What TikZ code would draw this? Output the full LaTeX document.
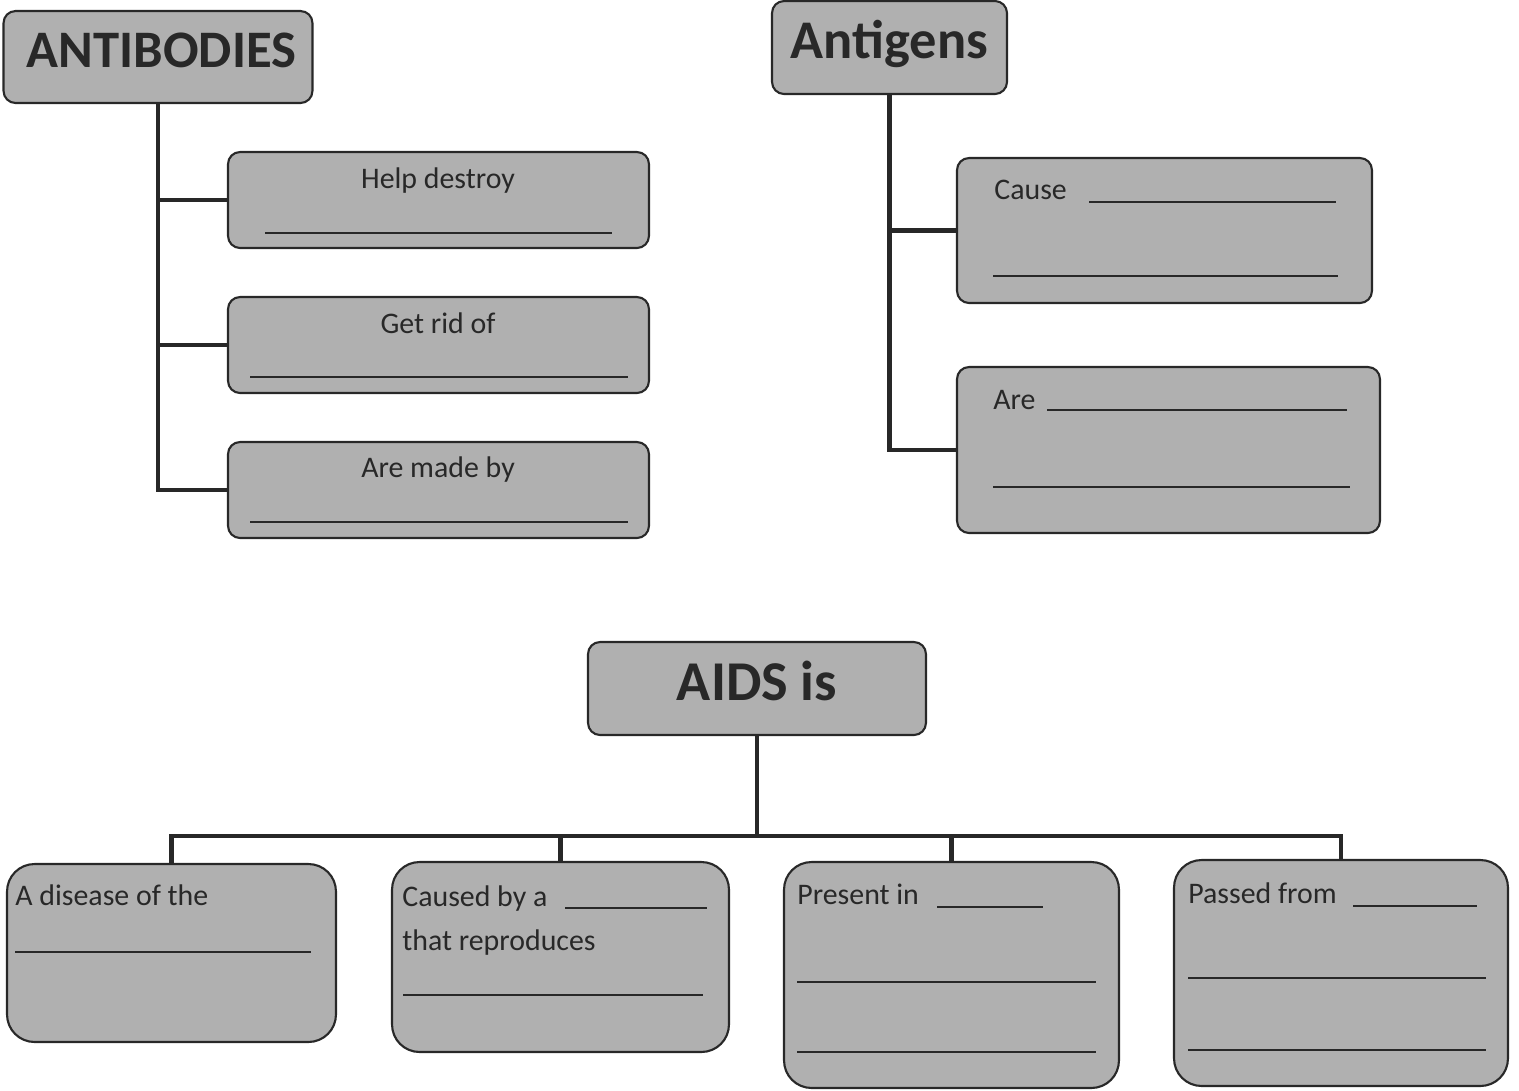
\documentclass[tikz,border=0pt]{standalone}
\usepackage{fontspec}
\setmainfont{Carlito}
\definecolor{boxfill}{RGB}{176,176,176}
\definecolor{ink}{RGB}{40,40,40}
\begin{document}
\begin{tikzpicture}[x=0.02cm,y=-0.02cm,
  box/.style={draw=ink, line width=1.2pt, fill=boxfill, rounded corners=0.24cm, inner sep=0pt, outer sep=0pt},
  bigbox/.style={box, rounded corners=0.55cm},
  conn/.style={draw=ink, line width=2.8pt},
  blank/.style={draw=ink, line width=1.1pt},
  title/.style={font=\fontsize{30}{35}\selectfont\bfseries, text=ink, inner sep=0pt},
  lbl/.style={font=\fontsize{17}{20}\selectfont, text=ink, inner sep=0pt}]
\useasboundingbox[fill=white] (0,0) rectangle (1519,1090);

% ---- boxes ----
\node[box, minimum width=6.18cm, minimum height=1.84cm] (ab) at (158,57) {};
\node[box, minimum width=4.7cm, minimum height=1.86cm] (ag) at (889.5,47.5) {};
\node[box, minimum width=8.42cm, minimum height=1.92cm] (hd) at (438.5,200) {};
\node[box, minimum width=8.42cm, minimum height=1.92cm] (gr) at (438.5,345) {};
\node[box, minimum width=8.42cm, minimum height=1.92cm] (md) at (438.5,490) {};
\node[box, minimum width=8.3cm, minimum height=2.9cm] (ca) at (1164.5,230.5) {};
\node[box, minimum width=8.46cm, minimum height=3.32cm] (ar) at (1168.5,450) {};
\node[box, minimum width=6.76cm, minimum height=1.86cm] (aids) at (757,688.5) {};
\node[bigbox, minimum width=6.58cm, minimum height=3.56cm] (b1) at (171.5,953) {};
\node[bigbox, minimum width=6.74cm, minimum height=3.8cm] (b2) at (560.5,957) {};
\node[bigbox, minimum width=6.7cm, minimum height=4.52cm] (b3) at (951.5,975) {};
\node[bigbox, minimum width=6.68cm, minimum height=4.52cm] (b4) at (1341,973) {};

% ---- connectors ----
\draw[conn] (ab.south) |- (md.west);
\draw[conn] (ab.south |- hd.west) -- (hd.west);
\draw[conn] (ab.south |- gr.west) -- (gr.west);
\draw[conn] (ag.south) |- (ar.west);
\draw[conn] (ag.south |- ca.west) -- (ca.west);
\coordinate (bus) at (757,836);
\draw[conn] (aids.south) -- (bus);
\draw[conn] (b1.north) |- (bus);
\draw[conn] (b2.north) |- (bus);
\draw[conn] (b3.north) |- (bus);
\draw[conn] (b4.north) |- (bus);

% ---- titles ----
\node[title, anchor=base] (tab) at (161.5,67) {ANTIBODIES};
\node[title, anchor=base, font=\fontsize{31}{36}\selectfont\bfseries] (tag) at (889.5,58) {Antigens};
\node[title, anchor=base, font=\fontsize{32}{37}\selectfont\bfseries] (taids) at (757,700) {AIDS is};

% ---- labels ----
\node[lbl, anchor=base] (thd) at (438,188) {Help destroy};
\node[lbl, anchor=base] (tgr) at (438,333) {Get rid of};
\node[lbl, anchor=base] (tmd) at (438,477) {Are made by};
\node[lbl, anchor=base west] (tca) at (994,199) {Cause};
\node[lbl, anchor=base west] (tar) at (993,409) {Are};
\node[lbl, anchor=base west] (tb1) at (15,905) {A disease of the};
\node[lbl, anchor=base west] (tb2) at (402,906) {Caused by a};
\node[lbl, anchor=base west] (tb2b) at (402,950) {that reproduces};
\node[lbl, anchor=base west] (tb3) at (797,904) {Present in};
\node[lbl, anchor=base west] (tb4) at (1188,903) {Passed from};

% ---- blanks ----
\draw[blank] (265,233) -- (612,233);
\draw[blank] (250,377) -- (628,377);
\draw[blank] (250,522) -- (628,522);
\draw[blank] (1089,202) -- (1336,202);
\draw[blank] (993,276) -- (1338,276);
\draw[blank] (1047,410) -- (1347,410);
\draw[blank] (993,487) -- (1350,487);
\draw[blank] (15,952) -- (311,952);
\draw[blank] (565,908) -- (707,908);
\draw[blank] (403,995) -- (703,995);
\draw[blank] (937,907) -- (1043,907);
\draw[blank] (797,982) -- (1096,982);
\draw[blank] (797,1052) -- (1096,1052);
\draw[blank] (1353,906) -- (1477,906);
\draw[blank] (1188,978) -- (1486,978);
\draw[blank] (1188,1050) -- (1486,1050);
\end{tikzpicture}
\end{document}
